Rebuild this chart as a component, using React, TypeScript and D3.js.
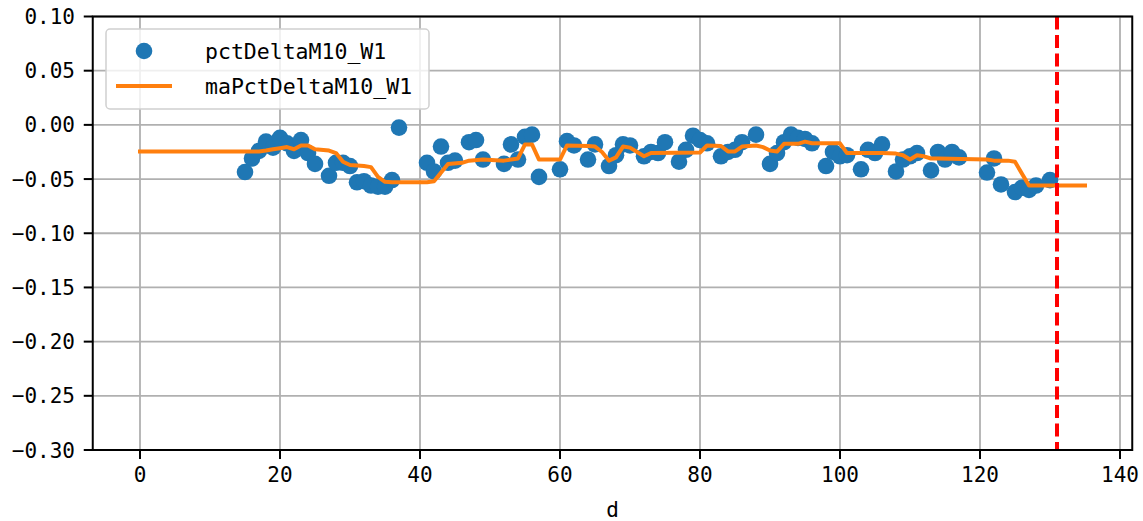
import React, { useEffect, useRef } from "react";
import * as d3 from "d3";

const W = 1143;
const H = 521;

// scatter series: pctDeltaM10_W1
const dotX = [15,16,17,18,19,20,21,22,23,24,25,27,28,29,30,31,32,33,34,35,36,37,
  41,42,43,44,45,47,48,49,52,53,54,55,56,57,60,61,62,64,65,67,68,69,70,72,73,74,75,
  77,78,79,80,81,83,84,85,86,88,90,91,92,93,94,95,96,98,99,100,101,103,104,105,106,
  108,109,110,111,113,114,115,116,117,121,122,123,125,126,127,128,130];
const dotY = [-0.0435,-0.031,-0.024,-0.0155,-0.021,-0.012,-0.017,-0.024,-0.014,-0.026,-0.036,-0.047,-0.035,-0.035,-0.038,-0.053,-0.052,-0.056,-0.057,-0.057,-0.051,-0.0025,
  -0.035,-0.043,-0.020,-0.035,-0.033,-0.016,-0.014,-0.032,-0.036,-0.018,-0.032,-0.011,-0.009,-0.048,-0.041,-0.015,-0.019,-0.032,-0.018,-0.038,-0.028,-0.018,-0.019,-0.029,-0.025,-0.026,-0.016,
  -0.034,-0.023,-0.010,-0.014,-0.017,-0.029,-0.025,-0.023,-0.016,-0.009,-0.036,-0.026,-0.016,-0.009,-0.012,-0.013,-0.017,-0.038,-0.025,-0.029,-0.028,-0.041,-0.023,-0.026,-0.018,
  -0.043,-0.032,-0.029,-0.026,-0.042,-0.025,-0.032,-0.025,-0.030,-0.044,-0.031,-0.055,-0.062,-0.058,-0.060,-0.056,-0.051];

// line series: maPctDeltaM10_W1 (vertices)
const maX = [0,17,18,19,20,21,22,23,24,25,27,28,29,30,32,33,34,35,36,41,42,44,46,47,49,52,54,55,56,57,60,61,64,65,66,67,68,69,70,72,73,80,81,83,84,85,86,88,89,90,91,92,94,95,96,100,101,106,108,109,110,111,112,113,114,121,122,124,125,126,127,135];
const maY = [-0.0245,-0.0245,-0.0237,-0.0225,-0.0215,-0.0205,-0.0225,-0.019,-0.019,-0.0225,-0.0237,-0.026,-0.034,-0.037,-0.038,-0.039,-0.048,-0.0525,-0.053,-0.053,-0.052,-0.036,-0.035,-0.033,-0.032,-0.033,-0.031,-0.018,-0.018,-0.032,-0.032,-0.019,-0.0195,-0.020,-0.025,-0.033,-0.030,-0.020,-0.021,-0.029,-0.026,-0.0255,-0.019,-0.0195,-0.0245,-0.0245,-0.020,-0.019,-0.0205,-0.0237,-0.0246,-0.0175,-0.0175,-0.0155,-0.017,-0.017,-0.026,-0.026,-0.0265,-0.028,-0.032,-0.028,-0.029,-0.031,-0.031,-0.032,-0.033,-0.033,-0.034,-0.045,-0.056,-0.056];

const vLineX = 131;
const xTicks = [0, 20, 40, 60, 80, 100, 120, 140];
const yTicks = [0.1, 0.05, 0, -0.05, -0.1, -0.15, -0.2, -0.25, -0.3];
const seriesNames = ["pctDeltaM10_W1", "maPctDeltaM10_W1"];
const xLabel = "d";

const FONT = "'DejaVu Sans Mono', monospace";

export default function App() {
  const ref = useRef<SVGSVGElement>(null);
  useEffect(() => {
    const svg = d3.select(ref.current);
    svg.selectAll("*").remove();
    const L = 92.75, R = 1132.25, T = 16.5, B = 450;
    const x = d3.scaleLinear().domain([-6.75, 141.75]).range([L, R]);
    const y = d3.scaleLinear().domain([-0.3, 0.1]).range([B, T]);

    const g = svg.append("g");
    // grid
    g.selectAll(".gx").data(xTicks).enter().append("line")
      .attr("x1", d => x(d)).attr("x2", d => x(d)).attr("y1", T).attr("y2", B)
      .attr("stroke", "#b0b0b0").attr("stroke-width", 1.8);
    g.selectAll(".gy").data(yTicks).enter().append("line")
      .attr("x1", L).attr("x2", R).attr("y1", d => y(d)).attr("y2", d => y(d))
      .attr("stroke", "#b0b0b0").attr("stroke-width", 1.8);

    // dots
    g.selectAll(".dot").data(dotX).enter().append("circle")
      .attr("cx", d => x(d)).attr("cy", (_, i) => y(dotY[i])).attr("r", 8.3)
      .attr("fill", "#1f77b4");

    // ma line
    const line = d3.line<number>().x(d => x(d)).y((_, i) => y(maY[i]));
    g.append("path").attr("d", line(maX) as string).attr("fill", "none")
      .attr("stroke", "#ff7f0e").attr("stroke-width", 4).attr("stroke-linejoin", "round").attr("stroke-linecap", "square");

    // red dashed
    g.append("line").attr("x1", x(vLineX)).attr("x2", x(vLineX)).attr("y1", T).attr("y2", B)
      .attr("stroke", "#ff0000").attr("stroke-width", 4).attr("stroke-dasharray", "13,5.5");

    // spines
    g.append("rect").attr("x", L).attr("y", T).attr("width", R - L).attr("height", B - T)
      .attr("fill", "none").attr("stroke", "#000").attr("stroke-width", 2);

    // ticks
    g.selectAll(".tx").data(xTicks).enter().append("line")
      .attr("x1", d => x(d)).attr("x2", d => x(d)).attr("y1", B).attr("y2", B + 9)
      .attr("stroke", "#000").attr("stroke-width", 2);
    g.selectAll(".txl").data(xTicks).enter().append("text")
      .attr("x", d => x(d)).attr("y", 482).attr("text-anchor", "middle")
      .attr("font-family", FONT).attr("font-size", 21).text(d => String(d));
    g.selectAll(".ty").data(yTicks).enter().append("line")
      .attr("x1", L - 9).attr("x2", L).attr("y1", d => y(d)).attr("y2", d => y(d))
      .attr("stroke", "#000").attr("stroke-width", 2);
    g.selectAll(".tyl").data(yTicks).enter().append("text")
      .attr("x", 75).attr("y", d => y(d) + 7.5).attr("text-anchor", "end")
      .attr("font-family", FONT).attr("font-size", 21)
      .text(d => d3.format(".2f")(d).replace("-", "−"));

    g.append("text").attr("x", (L + R) / 2).attr("y", 517).attr("text-anchor", "middle")
      .attr("font-family", FONT).attr("font-size", 21).text(xLabel);

    // legend
    const lg = g.append("g");
    lg.append("rect").attr("x", 106).attr("y", 29).attr("width", 323).attr("height", 80)
      .attr("rx", 4).attr("fill", "rgba(255,255,255,0.8)").attr("stroke", "#d0d0d0").attr("stroke-width", 1.5);
    lg.append("circle").attr("cx", 144).attr("cy", 51).attr("r", 8.3).attr("fill", "#1f77b4");
    lg.append("line").attr("x1", 116).attr("x2", 172).attr("y1", 86).attr("y2", 86)
      .attr("stroke", "#ff7f0e").attr("stroke-width", 4);
    lg.selectAll(".lt").data(seriesNames).enter().append("text")
      .attr("x", 205).attr("y", (_, i) => 58.5 + i * 35)
      .attr("font-family", FONT).attr("font-size", 21.5).text(d => d);
  }, []);
  return (
    <svg ref={ref} width={W} height={H}
      style={{ position: "absolute", left: 0, top: 0, background: "#fff" }} />
  );
}
